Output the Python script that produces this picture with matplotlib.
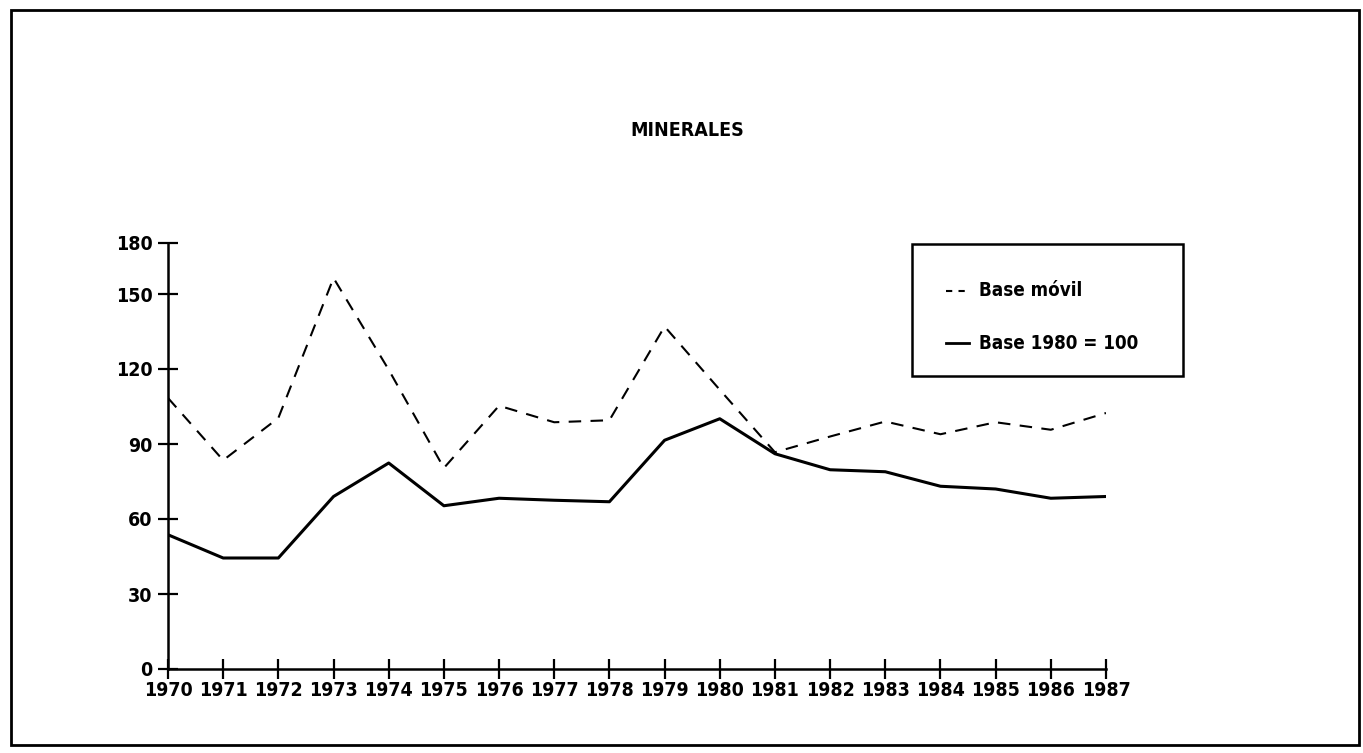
import matplotlib
matplotlib.use("Agg")
import matplotlib.pyplot as plt
from matplotlib.lines import Line2D
from matplotlib.patches import Rectangle

years = list(range(1970, 1988))
base_movil = [108.4, 83.5, 100.4, 156.4, 119.7, 80.4, 105.3, 98.7, 99.5,
              137.0, 111.7, 86.7, 93.0, 99.0, 93.9, 98.7, 95.7, 102.4]
base_1980 = [53.7, 44.4, 44.4, 69.0, 82.4, 65.3, 68.3, 67.5, 66.9,
             91.5, 100.1, 86.1, 79.7, 78.9, 73.1, 72.0, 68.3, 69.0]
ytick_vals = [0, 30, 60, 90, 120, 150]
ytick_labels = ["0", "30", "60", "90", "120", "150", "180"]
title = "MINERALES"
legend_labels = ["Base móvil", "Base 1980 = 100"]

W, H = 1363, 753
fig = plt.figure(figsize=(W / 100, H / 100), dpi=100)
fnt = dict(family="DejaVu Sans", stretch="condensed", weight="bold")

# axes placement (pixels)
x0, x1, yb, yt = 168, 1106, 669, 243
ax = fig.add_axes([x0 / W, 1 - yb / H, (x1 - x0) / W, (yb - yt) / H])
ytop = (yb - yt) / 2.5  # top of axis as drawn in the reference

ax.plot(years, base_movil, color="black", lw=1.5, ls=(0, (6, 4.5)))
ax.plot(years, base_1980, color="black", lw=2.2)

ax.set_xlim(1970, 1987)
ax.set_ylim(0, ytop)
ax.set_xticks(years)
ax.set_xticklabels([str(y) for y in years], **fnt, fontsize=14)
ax.set_yticks(ytick_vals + [ytop])
ax.set_yticklabels(ytick_labels, **fnt, fontsize=14)
for s in ["top", "right"]:
    ax.spines[s].set_visible(False)
for s in ["left", "bottom"]:
    ax.spines[s].set_linewidth(1.8)
ax.tick_params(direction="inout", length=14, width=1.6, colors="black")
ax.tick_params(axis="y", pad=4)
ax.tick_params(axis="x", pad=2)
ax.set_facecolor("none")

fig.text(687 / W, 1 - 130 / H, title, ha="center", va="center", fontsize=14, **fnt)

# outer frame
fig.add_artist(Rectangle((11 / W, 1 - 745 / H), (1359 - 11) / W, (745 - 10) / H,
                         transform=fig.transFigure, fill=False, lw=2, ec="black"))

# legend box
lx0, lx1, ly0, ly1 = 912, 1183, 244, 376
fig.add_artist(Rectangle((lx0 / W, 1 - ly1 / H), (lx1 - lx0) / W, (ly1 - ly0) / H,
                         transform=fig.transFigure, fill=False, lw=1.8, ec="black"))
for yy, ls, lw, lab in [(291, (0, (3, 3)), 1.5, legend_labels[0]),
                        (343, "-", 2.0, legend_labels[1])]:
    fig.add_artist(Line2D([946 / W, 969 / W], [1 - yy / H, 1 - yy / H],
                          transform=fig.transFigure, color="black", lw=lw, ls=ls))
    fig.text(979 / W, 1 - yy / H, lab, ha="left", va="center", fontsize=13.5, **fnt)

fig.savefig("out.png", dpi=100, facecolor="white")
